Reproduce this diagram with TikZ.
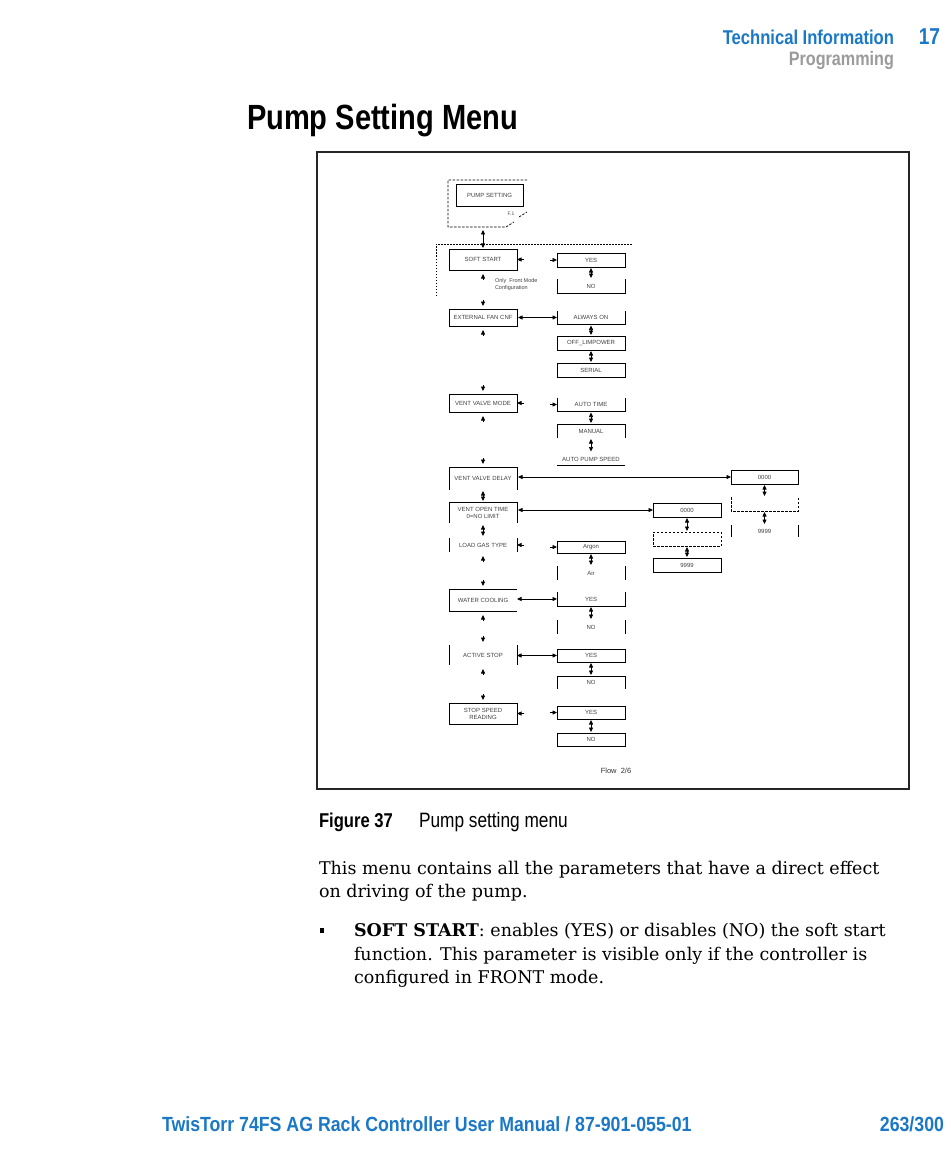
\documentclass[tikz,border=0pt]{standalone}
\usepackage{fontspec}
\usepackage{xcolor}
\usepackage{tikz}
\usetikzlibrary{arrows.meta}
\newfontfamily\headfont[FakeStretch=0.83]{Liberation Sans}
\newfontfamily\footfont[FakeStretch=0.865]{Liberation Sans}
\newfontfamily\diagfont{Liberation Sans}
\newfontfamily\bodyfont{DejaVu Serif}
\newcommand\menufont{\diagfont\fontsize{6}{7}\selectfont}
\newcommand\bodysize{\bodyfont\fontsize{17.5}{23}\selectfont}
\definecolor{manualblue}{HTML}{1A78C6}
\definecolor{headgray}{HTML}{9B9B9B}

\begin{document}
\begin{tikzpicture}[x=1pt, y=1pt,
  txt/.style={inner sep=0pt, outer sep=0pt},
  menu/.style={minimum width=68pt, minimum height=14pt, inner sep=0pt, outer sep=0pt, align=center, font=\menufont, text=black!75},
  framed/.style={menu, draw},
  dashbox/.style={dash pattern=on 2.5pt off 1.5pt},
  line width=0.7pt,
  >={Triangle[length=4.5pt,width=4pt]}
]
\useasboundingbox (0,0) rectangle (950,-1166);

% page head
\node[txt, anchor=base east, font=\headfont\bfseries\fontsize{20}{24}\selectfont, text=manualblue] (sect) at (894,-45) {Technical Information};
\node[txt, anchor=base east, font=\headfont\bfseries\fontsize{23}{26}\selectfont, text=manualblue] (chap) at (940,-45) {17};
\node[txt, anchor=base east, font=\headfont\bfseries\fontsize{19.5}{24}\selectfont, text=headgray] (sub) at (894,-66) {Programming};
\node[txt, anchor=base west, font=\headfont\bfseries\fontsize{35}{40}\selectfont] (title) at (247,-130) {Pump Setting Menu};

% figure frame
\draw[line width=1.2pt, black!85] (317,-152) rectangle (909,-789);

% start of the menu
\draw[dashbox] (527,-180) -- (448,-180) -- (448,-227) -- (506,-227) -- (514,-222);
\draw[dashbox] (519,-217) -- (527,-212);
\node[framed, minimum width=67pt, minimum height=22pt] (pset) at (489.5,-195) {PUMP SETTING};
\node[txt, font=\diagfont\fontsize{5}{6}\selectfont, text=black!70] (fone) at (511,-214) {F.1};
\coordinate (psetb) at (483,-229);
\draw[line width=0.5pt, dash pattern=on 1.5pt off 1.5pt] (436,-296) -- (436,-244) -- (632,-244);

% parameters
\node[framed, minimum height=21pt] (ss) at (483,-259.5) {SOFT START};
\node[framed, minimum height=17pt] (fan) at (483,-317.5) {EXTERNAL FAN CNF};
\node[framed, minimum height=18pt] (vvm) at (483,-403) {VENT VALVE MODE};
\node[menu, minimum height=23pt] (vvd) at (483,-478.5) {VENT VALVE DELAY};
\node[menu, minimum height=21pt] (vot) at (483,-512.5) {VENT OPEN TIME\\0=NO LIMIT};
\node[menu, minimum height=14pt] (lgt) at (483,-545) {LOAD GAS TYPE};
\node[menu, minimum height=22pt] (wc) at (483,-600) {WATER COOLING};
\node[menu, minimum height=20pt] (as) at (483,-655) {ACTIVE STOP};
\node[framed, minimum height=21pt] (ssr) at (483,-713.5) {STOP SPEED\\READING};

\node[txt, anchor=west, align=left, font=\diagfont\fontsize{5.5}{7}\selectfont, text=black!75] (note) at (495,-284.5) {Only~~Front Mode\\Configuration};

% values
\node[framed] (ssyes) at (591,-260) {YES};
\node[menu] (ssno) at (591,-286) {NO};
\node[menu] (fanon) at (591,-317.5) {ALWAYS ON};
\node[framed] (fanoff) at (591,-343) {OFF\_LIMPOWER};
\node[framed] (fanser) at (591,-370) {SERIAL};
\node[menu] (vvmat) at (591,-404.5) {AUTO TIME};
\node[menu] (vvmman) at (591,-431) {MANUAL};
\node[menu, minimum height=13pt] (vvmaps) at (591,-459) {AUTO PUMP SPEED};
\node[framed, minimum height=12pt] (lgtar) at (591,-547) {Argon};
\node[menu] (lgtair) at (591,-573) {Air};
\node[menu] (wcyes) at (591,-599) {YES};
\node[menu] (wcno) at (591,-627) {NO};
\node[framed, minimum height=13pt] (asyes) at (591,-655.5) {YES};
\node[menu, minimum height=13pt] (asno) at (591,-682.5) {NO};
\node[framed, minimum height=13pt] (ssryes) at (591,-712.5) {YES};
\node[framed, minimum height=13pt] (ssrno) at (591,-739.5) {NO};

\node[framed, minimum width=67pt] (vvd0) at (764.5,-477) {0000};
\node[menu, minimum width=67pt] (vvddash) at (764.5,-504) {};
\node[menu, minimum width=67pt, minimum height=12pt] (vvd9) at (764.5,-531) {9999};
\node[framed] (vot0) at (687,-510) {0000};
\node[menu, draw, dashbox] (votdash) at (687,-539) {};
\node[framed] (vot9) at (687,-565) {9999};

% boxes with missing edges
\draw (ssno.north west) |- (ssno.south east) -- (ssno.north east);
\draw (fanon.north west) |- (fanon.south east) -- (fanon.north east);
\draw (vvmat.north west) |- (vvmat.south east) -- (vvmat.north east);
\draw (vvmman.south west) |- (vvmman.north east) -- (vvmman.south east);
\draw (vvmaps.south west) -- (vvmaps.south east);
\draw (vvd.south west) |- (vvd.north east) -- (vvd.south east);
\draw (vot.south west) |- (vot.north east) -- (vot.south east);
\draw (lgt.north west) -- (lgt.south west) (lgt.north east) -- (lgt.south east);
\draw (lgtair.north west) -- (lgtair.south west) (lgtair.north east) -- (lgtair.south east);
\draw (wc.north east) -| (wc.south west) -- (wc.south east);
\draw (wcyes.north west) |- (wcyes.south east) -- (wcyes.north east);
\draw (wcno.north west) -- (wcno.south west) (wcno.north east) -- (wcno.south east);
\draw (as.north west) -- (as.south west) (as.north east) -- (as.south east);
\draw (asno.south west) |- (asno.north east) -- (asno.south east);
\draw (vvd9.north west) -- (vvd9.south west) (vvd9.north east) -- (vvd9.south east);
\draw[dashbox] (vvddash.north west) |- (vvddash.south east) -- (vvddash.north east);

% links between parameters and values
\draw[<->, shorten <=1pt] (fan.east |- fanon.west) -- (fanon.west);
\draw[<->, shorten <=1pt] (vvd.east |- vvd0.west) -- (vvd0.west);
\draw[<->, shorten <=1pt] (vot.east |- vot0.west) -- (vot0.west);
\draw[<->] (wc.east |- wcyes.west) -- (wcyes.west);
\draw[<->] (as.east |- asyes.west) -- (asyes.west);
\foreach \p/\v in {ss/ssyes, vvm/vvmat, lgt/lgtar, ssr/ssryes} {
  \draw[->] ([xshift=7pt]\p.east) -- (\p.east);
  \draw[->] ([xshift=-7pt]\v.west) -- (\v.west);
}

% scrolling marks
\draw[<->, shorten <=1pt, shorten >=1pt] (psetb) -- (ss.north);
\draw[<->, shorten <=1pt, shorten >=1pt] (vvd.south) -- (vot.north);
\draw[<->, shorten <=2pt, shorten >=2pt] (vot.south) -- (lgt.north);
\foreach \n in {ss,fan,vvm,lgt,wc,as}
  \draw[->] ([yshift=-10pt]\n.south) -- ([yshift=-4pt]\n.south);
\foreach \n in {fan,vvm,vvd,wc,as,ssr}
  \draw[->] ([yshift=9pt]\n.north) -- ([yshift=3pt]\n.north);
\foreach \a/\b in {ssyes/ssno, fanon/fanoff, fanoff/fanser, vvmat/vvmman, vvmman/vvmaps, lgtar/lgtair, wcyes/wcno, asyes/asno, ssryes/ssrno, vvd0/vvddash, vvddash/vvd9, vot0/votdash, votdash/vot9}
  \draw[<->, shorten <=1pt, shorten >=1pt] (\a.south) -- (\b.north);

\node[txt, font=\diagfont\fontsize{7.5}{9}\selectfont, text=black!80] (flow) at (616,-771) {Flow~~2/6};

% caption and text
\node[txt, anchor=base west, font=\headfont\bfseries\fontsize{20}{24}\selectfont] (fig) at (319,-827) {Figure 37};
\node[txt, anchor=base west, font=\headfont\fontsize{20.8}{24}\selectfont] (figcap) at (419,-827) {Pump setting menu};
\node[txt, anchor=base west, font=\bodysize] (body1) at (319,-874) {This menu contains all the parameters that have a direct effect};
\node[txt, anchor=base west, font=\bodysize] (body2) at (319,-897) {on driving of the pump.};
\node[fill, minimum width=4pt, minimum height=5pt, inner sep=0pt] (bul) at (322,-930) {};
\node[txt, anchor=base west, font=\bodysize] (item1) at (354,-936) {\textbf{SOFT START}: enables (YES) or disables (NO) the soft start};
\node[txt, anchor=base west, font=\bodysize] (item2) at (354,-960) {function. This parameter is visible only if the controller is};
\node[txt, anchor=base west, font=\bodysize] (item3) at (354,-983) {configured in FRONT mode.};

% page foot
\node[txt, anchor=base west, font=\footfont\bfseries\fontsize{20.5}{24}\selectfont, text=manualblue] (foot) at (162,-1131) {TwisTorr 74FS AG Rack Controller User Manual / 87-901-055-01};
\node[txt, anchor=base east, font=\footfont\bfseries\fontsize{20.5}{24}\selectfont, text=manualblue] (page) at (944,-1131) {263/300};
\end{tikzpicture}
\end{document}
